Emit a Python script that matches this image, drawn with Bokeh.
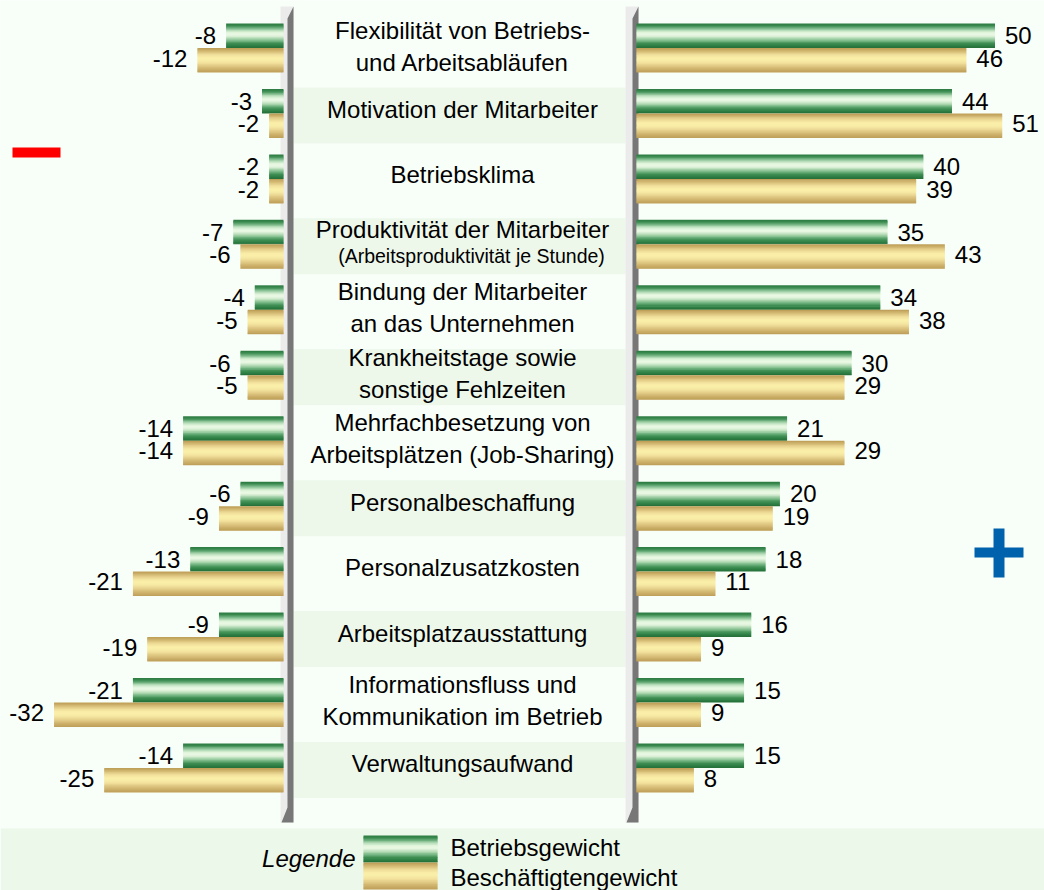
from bokeh.plotting import figure
from bokeh.models import Range1d, ColumnDataSource
from bokeh.core.properties import value
from bokeh.embed import file_html
from bokeh.resources import INLINE

# ---------------- data ----------------
categories = [
    "Flexibilität von Betriebs-\nund Arbeitsabläufen",
    "Motivation der Mitarbeiter",
    "Betriebsklima",
    "Produktivität der Mitarbeiter\n(Arbeitsproduktivität je Stunde)",
    "Bindung der Mitarbeiter\nan das Unternehmen",
    "Krankheitstage sowie\nsonstige Fehlzeiten",
    "Mehrfachbesetzung von\nArbeitsplätzen (Job-Sharing)",
    "Personalbeschaffung",
    "Personalzusatzkosten",
    "Arbeitsplatzausstattung",
    "Informationsfluss und\nKommunikation im Betrieb",
    "Verwaltungsaufwand",
]
neg_betrieb = [-8, -3, -2, -7, -4, -6, -14, -6, -13, -9, -21, -14]
neg_besch = [-12, -2, -2, -6, -5, -5, -14, -9, -21, -19, -32, -25]
pos_betrieb = [50, 44, 40, 35, 34, 30, 21, 20, 18, 16, 15, 15]
pos_besch = [46, 51, 39, 43, 38, 29, 29, 19, 11, 9, 9, 8]
legend_labels = ["Betriebsgewicht", "Beschäftigtengewicht"]
legend_title = "Legende"

# ---------------- layout constants ----------------
W, H = 1044, 890
SCALE = 7.17          # px per percentage point
ZERO_L = 283          # px position of zero, left panel
ZERO_R = 636          # px position of zero, right panel
ROW0 = 47.5           # px of first row centre line
PITCH = 65.45         # px between rows
BAR = 24.5 / PITCH    # bar height in row units
N = 20                # gradient strips

BG = "#F8FFF9"
BAND = "#EDF8EB"
FONT = value("Liberation Sans")
FS = "24px"

green_stops = ["#2A7A40", "#3D8D53", "#7CB98A", "#C2E4C2", "#EAF9E4",
               "#E4F5DE", "#B4DBB5", "#7AB988", "#449358", "#2E8045", "#236D37"]
tan_stops = ["#BC9C55", "#CDB16A", "#E3CD88", "#F2E29D", "#FAEFA9",
             "#F9EDA7", "#F2E29D", "#E5CF8A", "#D6BC77", "#C8AB64", "#BD9E58"]


def hex2rgb(h):
    h = h.lstrip("#")
    return tuple(int(h[i:i + 2], 16) for i in (0, 2, 4))


def grad(stops, n):
    out = []
    m = len(stops) - 1
    for k in range(n):
        t = (k + 0.5) / n * m
        a = min(int(t), m - 1)
        f = t - a
        c1, c2 = hex2rgb(stops[a]), hex2rgb(stops[a + 1])
        c = tuple(round(c1[j] + (c2[j] - c1[j]) * f) for j in range(3))
        out.append("#%02x%02x%02x" % c)
    return out


GREEN = grad(green_stops, N)
TAN = grad(tan_stops, N)

p = figure(width=W, height=H,
           x_range=Range1d(-ZERO_L / SCALE, (W - ZERO_L) / SCALE),
           y_range=Range1d((H - ROW0) / PITCH, -ROW0 / PITCH),
           output_backend="svg", toolbar_location=None, min_border=0,
           x_axis_location=None, y_axis_location=None,
           outline_line_color=None, background_fill_color=BG,
           border_fill_color=BG)
p.extra_x_ranges = {"right": Range1d(-ZERO_R / SCALE, (W - ZERO_R) / SCALE),
                    "px": Range1d(0, W)}
p.extra_y_ranges = {"px": Range1d(H, 0)}
p.xgrid.visible = False
p.ygrid.visible = False

idx = list(range(len(categories)))

# ---------------- label bands ----------------
band_rows = [i for i in idx if i % 2 == 1]
p.quad(left=293, right=625,
       top=[i - BAR - 1.5 / PITCH for i in band_rows],
       bottom=[i + BAR + 5.5 / PITCH for i in band_rows],
       x_range_name="px", fill_color=BAND, line_color=None)

# ---------------- separators ----------------
for xl in (280, 625):
    p.quad(left=xl, right=xl + 13, top=6, bottom=822, x_range_name="px",
           y_range_name="px", fill_color="#EBEBEB", line_color=None)
    p.patch([xl + 7, xl + 13, xl + 13, xl + 1, xl + 7],
            [18, 6, 822, 822, 807], x_range_name="px", y_range_name="px",
            fill_color="#777777", line_color=None)


# ---------------- gradient bars ----------------
def bar_source(vals, colors, y_shift):
    d = dict(left=[], right=[], top=[], bottom=[], color=[])
    for i, v in zip(idx, vals):
        y0 = i + y_shift
        for k in range(N):
            t = y0 + k * BAR / N
            b = min(y0 + (k + 1.6) * BAR / N, y0 + BAR)
            d["left"].append(min(v, 0))
            d["right"].append(max(v, 0))
            d["top"].append(t)
            d["bottom"].append(b)
            d["color"].append(colors[k])
    return ColumnDataSource(d)


for vals, cols, sh, rng in [(neg_betrieb, GREEN, -BAR, "default"),
                            (neg_besch, TAN, 0, "default"),
                            (pos_betrieb, GREEN, -BAR, "right"),
                            (pos_besch, TAN, 0, "right")]:
    src = bar_source(vals, cols, sh)
    kw = {} if rng == "default" else {"x_range_name": rng}
    p.quad(left="left", right="right", top="top", bottom="bottom",
           fill_color="color", line_color=None, source=src, **kw)

# ---------------- value labels ----------------
for vals, sh, rng, off in [(neg_betrieb, -BAR / 2, "default", -10),
                           (neg_besch, BAR / 2, "default", -10),
                           (pos_betrieb, -BAR / 2, "right", 10),
                           (pos_besch, BAR / 2, "right", 10)]:
    kw = {} if rng == "default" else {"x_range_name": rng}
    p.text(x=vals, y=[i + sh for i in idx], text=[str(v) for v in vals],
           x_offset=off, y_offset=-2 if sh > 0 else 0,
           text_align="right" if off < 0 else "left", text_baseline="middle",
           text_font=FONT, text_font_size=FS, text_color="#000000", **kw)

# ---------------- category labels ----------------
CX = 462
lx, ly, lt, lo, ls = [], [], [], [], []
for i, c in zip(idx, categories):
    lines = c.split("\n")
    if len(lines) == 1:
        lx.append(CX); ly.append(i); lt.append(lines[0]); lo.append(-4); ls.append(FS)
    else:
        small = lines[1].startswith("(")
        lx.append(CX); ly.append(i); lt.append(lines[0])
        lo.append(-15 if small else -18); ls.append(FS)
        lx.append(471 if small else CX); ly.append(i); lt.append(lines[1])
        lo.append(12 if small else 14); ls.append("19.5px" if small else FS)
p.text(x=lx, y=ly, text=lt, y_offset=lo, text_font_size=ls,
       x_range_name="px", text_align="center", text_baseline="middle",
       text_font=FONT, text_color="#000000")

# ---------------- minus / plus signs ----------------
p.quad(left=12, right=60, top=147, bottom=157, x_range_name="px",
       y_range_name="px", fill_color="#FF0000", line_color=None)
p.quad(left=[974, 993], right=[1023, 1004], top=[547, 528], bottom=[557, 577],
       x_range_name="px", y_range_name="px", fill_color="#0062AC", line_color=None)

# ---------------- legend ----------------
p.quad(left=0, right=W, top=828, bottom=H, x_range_name="px",
       y_range_name="px", fill_color="#ECF8E9", line_color=None)
for cols, y0 in ((GREEN, 835), (TAN, 862)):
    hgt = 27
    p.quad(left=363, right=437,
           top=[y0 + k * hgt / N for k in range(N)],
           bottom=[min(y0 + (k + 1.6) * hgt / N, y0 + hgt) for k in range(N)],
           fill_color=cols, line_color=None, x_range_name="px", y_range_name="px")
p.text(x=[355], y=[858], text=[legend_title], x_range_name="px", y_range_name="px",
       text_align="right", text_baseline="middle", text_font=FONT,
       text_font_size=FS, text_font_style="italic", text_color="#000000")
p.text(x=[450, 450], y=[847, 877], text=legend_labels, x_range_name="px",
       y_range_name="px", text_align="left", text_baseline="middle",
       text_font=FONT, text_font_size=FS, text_color="#000000")

open("out.html", "w").write(file_html(p, INLINE))
